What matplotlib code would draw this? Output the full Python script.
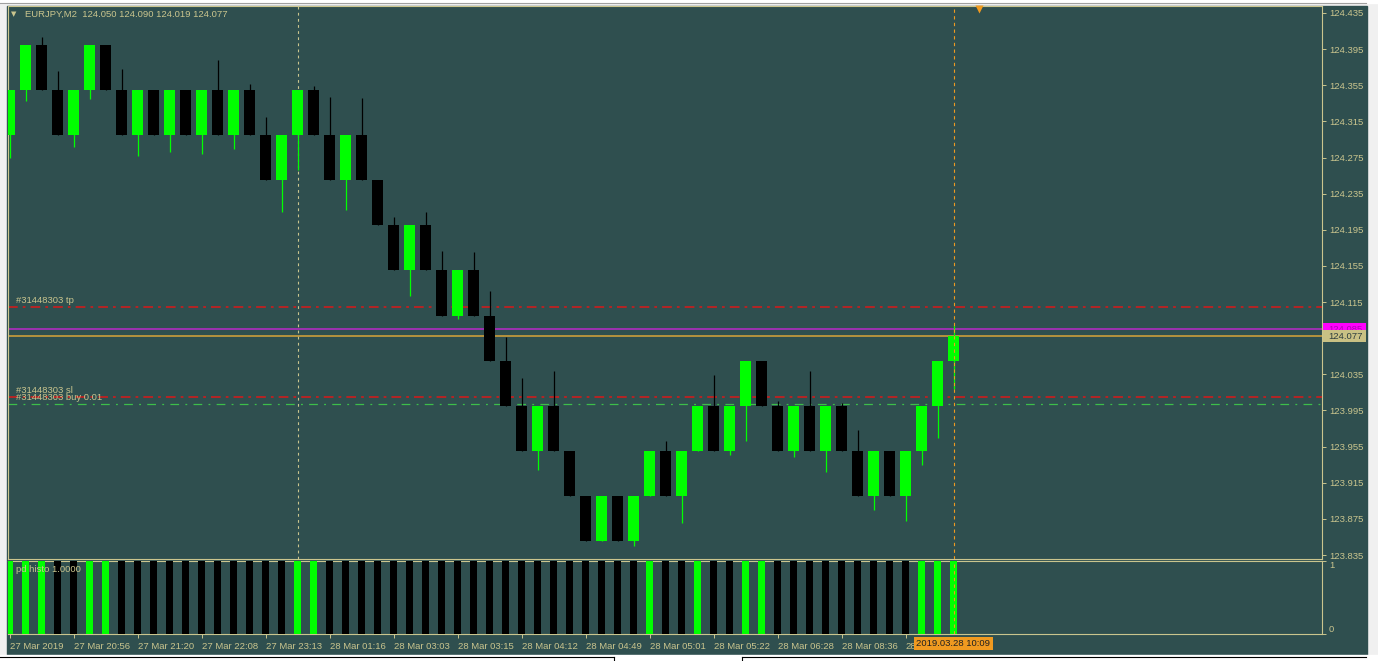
import matplotlib
matplotlib.use("Agg")
import matplotlib.pyplot as plt
import matplotlib.transforms as mtransforms
from matplotlib import font_manager
from matplotlib.patches import Rectangle
from matplotlib.lines import Line2D

# narrow font looks closest to the terminal font, fall back to normal width
_names = {f.name for f in font_manager.fontManager.ttflist}
if 'Liberation Sans Narrow' in _names:
    plt.rcParams['font.family'] = ['Liberation Sans Narrow', 'DejaVu Sans']
    FS = 8
else:
    plt.rcParams['font.family'] = ['Liberation Sans', 'DejaVu Sans']
    FS = 6.8

# EURJPY M2 bars (renko style, 0.05 bricks)
opens = [124.30, 124.35, 124.40, 124.35, 124.30, 124.35, 124.40, 124.35, 124.30, 124.35,
         124.30, 124.35, 124.30, 124.35, 124.30, 124.35, 124.30, 124.25, 124.30, 124.35,
         124.30, 124.25, 124.30, 124.25, 124.20, 124.15, 124.20, 124.15, 124.10, 124.15,
         124.10, 124.05, 124.00, 123.95, 124.00, 123.95, 123.90, 123.85, 123.90, 123.85,
         123.90, 123.95, 123.90, 123.95, 124.00, 123.95, 124.00, 124.05, 124.00, 123.95,
         124.00, 123.95, 124.00, 123.95, 123.90, 123.95, 123.90, 123.95, 124.00, 124.050]
closes = [124.35, 124.40, 124.35, 124.30, 124.35, 124.40, 124.35, 124.30, 124.35, 124.30,
          124.35, 124.30, 124.35, 124.30, 124.35, 124.30, 124.25, 124.30, 124.35, 124.30,
          124.25, 124.30, 124.25, 124.20, 124.15, 124.20, 124.15, 124.10, 124.15, 124.10,
          124.05, 124.00, 123.95, 124.00, 123.95, 123.90, 123.85, 123.90, 123.85, 123.90,
          123.95, 123.90, 123.95, 124.00, 123.95, 124.00, 124.05, 124.00, 123.95, 124.00,
          123.95, 124.00, 123.95, 123.90, 123.95, 123.90, 123.95, 124.00, 124.05, 124.077]
highs = [124.35, 124.40, 124.408, 124.371, 124.35, 124.40, 124.40, 124.373, 124.35, 124.35,
         124.35, 124.35, 124.35, 124.383, 124.35, 124.356, 124.320, 124.30, 124.35, 124.354,
         124.342, 124.30, 124.341, 124.25, 124.209, 124.20, 124.215, 124.172, 124.15, 124.170,
         124.127, 124.076, 124.031, 124.00, 124.039, 123.95, 123.90, 123.90, 123.90, 123.90,
         123.95, 123.961, 123.95, 124.00, 124.034, 124.00, 124.05, 124.05, 124.005, 124.00,
         124.039, 124.00, 124.003, 123.973, 123.95, 123.95, 123.95, 124.00, 124.05, 124.090]
lows = [124.275, 124.337, 124.35, 124.30, 124.287, 124.340, 124.35, 124.30, 124.277, 124.30,
        124.281, 124.30, 124.279, 124.30, 124.284, 124.30, 124.25, 124.215, 124.261, 124.30,
        124.25, 124.217, 124.25, 124.20, 124.15, 124.122, 124.15, 124.10, 124.096, 124.10,
        124.05, 124.00, 123.95, 123.929, 123.95, 123.90, 123.85, 123.85, 123.85, 123.845,
        123.90, 123.90, 123.870, 123.95, 123.95, 123.946, 123.961, 124.00, 123.95, 123.943,
        123.95, 123.927, 123.95, 123.90, 123.885, 123.90, 123.873, 123.935, 123.964, 124.019]

# pd histo indicator (value and colour flag per bar)
histo_vals = [1, 1, 1, 1, 1, 1, 1, 1, 1, 1, 1, 1, 1, 1, 1, 1, 1, 1, 1, 1,
              1, 1, 1, 1, 1, 1, 1, 1, 1, 1, 1, 1, 1, 1, 1, 1, 1, 1, 1, 1,
              1, 1, 1, 1, 1, 1, 1, 1, 1, 1, 1, 1, 1, 1, 1, 1, 1, 1, 1, 1]
histo_up = [1, 1, 1, 0, 0, 1, 1, 0, 0, 0, 0, 0, 0, 0, 0, 0, 0, 0, 1, 1,
            0, 0, 0, 0, 0, 0, 0, 0, 0, 0, 0, 0, 0, 0, 0, 0, 0, 0, 0, 0,
            1, 0, 0, 1, 0, 0, 1, 1, 0, 0, 0, 0, 0, 0, 0, 0, 0, 1, 1, 1]

time_labels = ["27 Mar 2019", "27 Mar 20:56", "27 Mar 21:20", "27 Mar 22:08", "27 Mar 23:13",
               "28 Mar 01:16", "28 Mar 03:03", "28 Mar 03:15", "28 Mar 04:12", "28 Mar 04:49",
               "28 Mar 05:01", "28 Mar 05:22", "28 Mar 06:28", "28 Mar 08:36", "28"]
price_ticks = [124.435, 124.395, 124.355, 124.315, 124.275, 124.235, 124.195, 124.155,
               124.115, 124.075, 124.035, 123.995, 123.955, 123.915, 123.875, 123.835]

header = "EURJPY,M2  124.050 124.090 124.019 124.077"
order_tag = "#31448303"
tp_price = 124.110
sl_price = 124.010
buy_price = 124.002
ask_price = 124.085
bid_price = 124.077
sep_bar = 18
cursor_bar = 59
cursor_label = "2019.03.28 10:09"

W, H = 1378, 661
BG = '#2F4F4F'
FG = '#CAC58E'
LIME = '#00FF00'
ORANGE = '#F09A20'


def fx(x):
    return x / W


def fy(y):
    return 1 - y / H


fig = plt.figure(figsize=(W / 100, H / 100), dpi=100, facecolor='#F0F0F0')

# window chrome (behind the axes)
fig.patches.append(Rectangle((0, fy(2.5)), 1, 2.5 / H, transform=fig.transFigure,
                             color='white', zorder=-5))
fig.patches.append(Rectangle((fx(7), fy(655)), fx(1367) - fx(7), fy(6) - fy(655),
                             transform=fig.transFigure, color=BG, zorder=-5))
fig.lines.append(Line2D([0, fx(1366)], [fy(2.5), fy(2.5)], transform=fig.transFigure,
                        color='#A0A0A0', lw=0.8, zorder=-4))
fig.patches.append(Rectangle((0, 0), 1, 6 / H, transform=fig.transFigure,
                             color='white', zorder=-5))
for x0, x1 in [(0, 614), (742, 1366)]:
    fig.lines.append(Line2D([fx(x0), fx(x1)], [fy(657), fy(657)], transform=fig.transFigure,
                            color='black', lw=0.8, zorder=-4))
for xv in [614, 742]:
    fig.lines.append(Line2D([fx(xv), fx(xv)], [fy(657), 0], transform=fig.transFigure,
                            color='black', lw=0.8, zorder=-4))

ax = fig.add_axes([fx(8), fy(559), fx(1322) - fx(8), fy(6) - fy(559)])
ax2 = fig.add_axes([fx(8), fy(634), fx(1322) - fx(8), fy(561) - fy(634)])

n = len(opens)
xs = list(range(n))
x_left = (8 - 9.5) / 16
x_right = x_left + 1314 / 16

for a in (ax, ax2):
    a.set_zorder(2)
    a.set_facecolor(BG)
    a.set_xlim(x_left, x_right)
    for s in a.spines.values():
        s.set_color(FG)
        s.set_linewidth(0.8)
    a.yaxis.tick_right()
    a.tick_params(axis='y', colors=FG, length=3, width=0.7, pad=2, labelsize=FS)

# candles
colors = [LIME if c >= o else 'black' for o, c in zip(opens, closes)]
bottoms = [min(o, c) for o, c in zip(opens, closes)]
heights = [abs(c - o) for o, c in zip(opens, closes)]
ax.vlines(xs, lows, highs, colors=colors, lw=0.9, zorder=3)
ax.bar(xs, heights, bottom=bottoms, width=11 / 16, color=colors, lw=0, zorder=4)

ax.set_ylim(123.8306, 124.4427)
ax.set_yticks(price_ticks)
# the bid box hides the 124.075 label, as on the terminal
ax.set_yticklabels(["" if abs(p - bid_price) < 0.005 else f"{p:.3f}" for p in price_ticks])
ax.tick_params(axis='x', bottom=False, labelbottom=False)

# trade levels
ax.axhline(tp_price, color='#B52424', lw=1.4, ls=(0, (5, 2.6, 1.4, 2.6)), zorder=2)
ax.axhline(sl_price, color='#B52424', lw=1.4, ls=(0, (5, 2.6, 1.4, 2.6)), zorder=2)
ax.axhline(buy_price, color='#3DBE4A', lw=0.9, ls=(0, (7, 5, 1.5, 5)), zorder=2)
ax.axhline(ask_price, color='#B02CC0', lw=1.2, zorder=2)
ax.axhline(bid_price, color='#D9A43A', lw=1.1, zorder=2)

lbl_tr = mtransforms.offset_copy(ax.get_yaxis_transform(), fig=fig, x=0, y=6.5, units='dots')
for txt, p in [(order_tag + " tp", tp_price), (order_tag + " sl", sl_price),
               (order_tag + " buy 0.01", buy_price)]:
    ax.text(8 / 1314, p, txt, transform=lbl_tr, color=FG, fontsize=FS, va='center', ha='left')

# price boxes on the axis
ytr = ax.get_yaxis_transform()
px_price = (124.4427 - 123.8306) / 553
for p, fc, tc, z in [(ask_price, '#FF00FF', '#B000B8', 7), (bid_price, '#C9C184', '#2F3F3F', 8)]:
    ax.add_patch(Rectangle((1 + 1 / 1314, p - 6 * px_price), 43 / 1314, 12 * px_price,
                           transform=ytr, fc=fc, ec='none', clip_on=False, zorder=z))
    ax.text(1 + 6 / 1314, p, f"{p:.3f}", transform=ytr, ha='left', va='center',
            fontsize=FS, color=tc, clip_on=False, zorder=z)

# separators
ax.axvline(sep_bar, color=FG, lw=0.8, ls=(0, (2.5, 3)), zorder=2)
ax.axvline(cursor_bar, color=ORANGE, lw=0.8, ls=(0, (3, 3)), zorder=6)
ax2.axvline(cursor_bar, color=ORANGE, lw=0.8, ls=(0, (3, 3)), zorder=6)

# chart shift marker
ax.plot([n + 0.6], [0.995], transform=ax.get_xaxis_transform(), marker='v', ms=6,
        color=ORANGE, mec='none', clip_on=False, zorder=9)

# header
fig.text(fx(14), fy(14), '\u25bc', fontsize=5, family='DejaVu Sans', color=FG,
         ha='center', va='center', zorder=5)
fig.text(fx(25), fy(14), header, fontsize=FS, color=FG, ha='left', va='center', zorder=5)

# histogram sub window
hcolors = [LIME if u else 'black' for u in histo_up]
ax2.bar(xs, histo_vals, width=7 / 16, color=hcolors, lw=0, zorder=3)
ax2.set_ylim(0, 1)
ax2.set_yticks([0, 1])
ax2.set_yticklabels(["0", "1"])
ylbls = ax2.get_yticklabels()
ylbls[0].set_va('bottom')
ylbls[1].set_va('top')
ax2.text(8 / 1314, 1 - 9 / 73, "pd histo 1.0000", transform=ax2.transAxes,
         color=FG, fontsize=FS, va='center', ha='left', zorder=5)

ax2.set_xticks(xs[::4])
ax2.set_xticklabels(time_labels)
ax2.tick_params(axis='x', colors=FG, length=3, width=0.7, pad=3, labelsize=FS)
for lb in ax2.get_xticklabels():
    lb.set_ha('left')

ax2.text(cursor_bar, (634 - 643.5) / 73, cursor_label, transform=ax2.get_xaxis_transform(),
         ha='center', va='center', fontsize=FS, color='#202020', clip_on=False, zorder=9,
         bbox=dict(boxstyle='square,pad=0.25', fc=ORANGE, ec='none'))

fig.savefig("out.png", dpi=100, facecolor=fig.get_facecolor())
